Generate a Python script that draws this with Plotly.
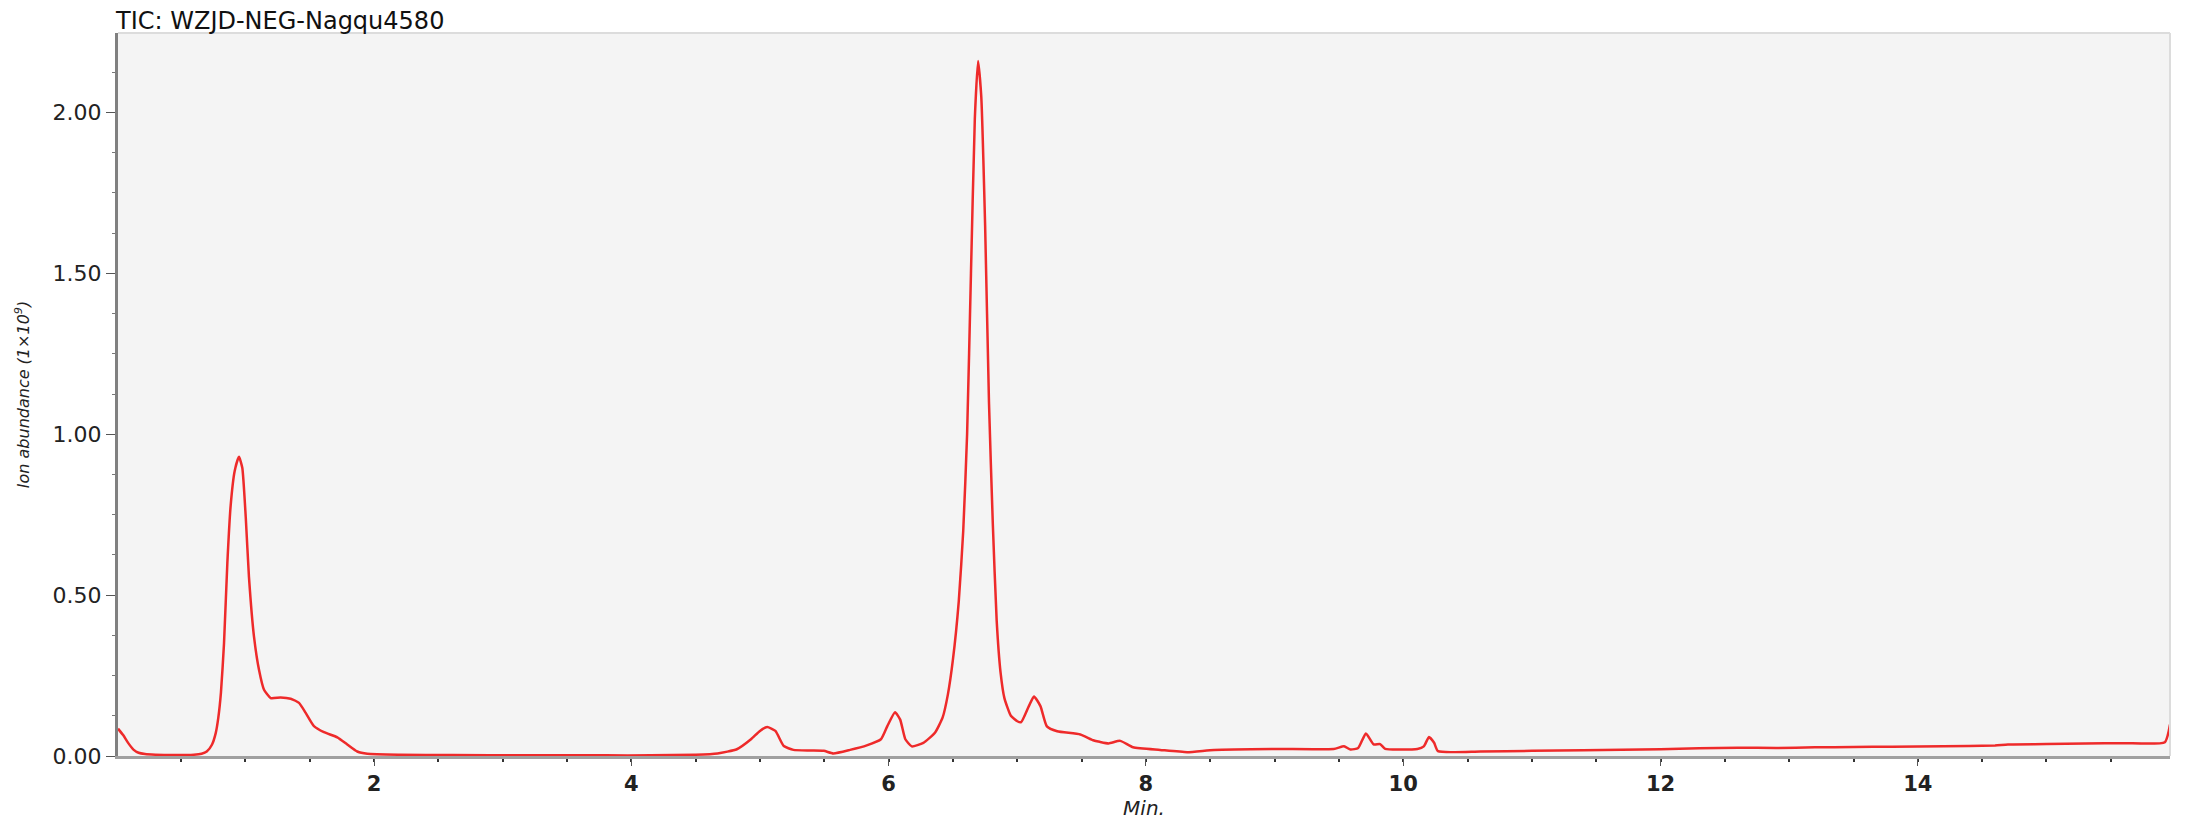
import plotly.graph_objects as go

# retention time (min) and TIC intensity (x1e9)
rt = [
    0.01, 0.05, 0.09, 0.13, 0.17, 0.22, 0.30, 0.45, 0.60, 0.66,
    0.70, 0.74, 0.77, 0.79, 0.81, 0.834, 0.86, 0.886, 0.917, 0.95,
    0.976, 1.003, 1.028, 1.067, 1.106, 1.145, 1.197, 1.274, 1.352, 1.417,
    1.469, 1.533, 1.611, 1.715, 1.792, 1.87, 1.948, 2.2, 2.6, 3.2,
    3.8, 4.15, 4.5, 4.67, 4.82, 4.93, 5.00, 5.056, 5.12, 5.185,
    5.26, 5.39, 5.496, 5.57, 5.70, 5.83, 5.94, 5.99, 6.05, 6.09,
    6.13, 6.18, 6.27, 6.36, 6.42, 6.46, 6.50, 6.545, 6.58, 6.61,
    6.64, 6.67, 6.695, 6.72, 6.75, 6.78, 6.81, 6.84, 6.87, 6.90,
    6.95, 7.00, 7.03, 7.09, 7.13, 7.18, 7.23, 7.31, 7.49, 7.59,
    7.64, 7.71, 7.80, 7.90, 8.11, 8.32, 8.53, 9.00, 9.46, 9.54,
    9.59, 9.65, 9.71, 9.77, 9.82, 9.86, 10.11, 10.16, 10.20, 10.24,
    10.27, 10.60, 11.00, 11.40, 12.00, 12.30, 12.60, 12.90, 13.20, 13.50,
    13.80, 14.20, 14.60, 14.70, 15.00, 15.30, 15.60, 15.92, 15.96,
]
tic = [
    0.085, 0.065, 0.040, 0.020, 0.010, 0.006, 0.004, 0.003, 0.004, 0.007,
    0.014, 0.035, 0.072, 0.120, 0.196, 0.350, 0.600, 0.780, 0.886, 0.930,
    0.896, 0.742, 0.556, 0.371, 0.268, 0.206, 0.180, 0.182, 0.178, 0.165,
    0.134, 0.093, 0.074, 0.058, 0.036, 0.014, 0.007, 0.004, 0.003, 0.002,
    0.002, 0.002, 0.004, 0.008, 0.021, 0.052, 0.078, 0.090, 0.078, 0.031,
    0.019, 0.017, 0.016, 0.008, 0.019, 0.033, 0.052, 0.093, 0.136, 0.113,
    0.052, 0.030, 0.041, 0.072, 0.120, 0.190, 0.300, 0.480, 0.700, 1.000,
    1.500, 1.980, 2.160, 2.050, 1.650, 1.100, 0.720, 0.420, 0.260, 0.180,
    0.125, 0.108, 0.105, 0.155, 0.185, 0.155, 0.092, 0.077, 0.067, 0.049,
    0.044, 0.039, 0.047, 0.027, 0.019, 0.012, 0.019, 0.022, 0.022, 0.030,
    0.020, 0.025, 0.070, 0.036, 0.037, 0.022, 0.022, 0.030, 0.059, 0.041,
    0.015, 0.014, 0.016, 0.018, 0.021, 0.024, 0.026, 0.025, 0.027, 0.028,
    0.029, 0.030, 0.033, 0.036, 0.037, 0.039, 0.040, 0.043, 0.098,
]

x_ticks = [2, 4, 6, 8, 10, 12, 14]
y_ticks = [0.0, 0.5, 1.0, 1.5, 2.0]
y_labels = ["0.00", "0.50", "1.00", "1.50", "2.00"]

# page body has an 8px margin, so the figure is sized 8px smaller
W, H = 2180, 816

fig = go.Figure()

fig.add_trace(go.Scatter(
    x=rt, y=tic,
    mode="lines",
    line=dict(color="#ee2a2a", width=2.5, shape="spline", smoothing=0.5),
    hoverinfo="x+y",
))

# light frame on top and right
fig.add_shape(type="line", xref="paper", yref="paper", x0=0, x1=1, y0=1, y1=1,
              line=dict(color="#dcdcdc", width=2))
fig.add_shape(type="line", xref="paper", yref="paper", x0=1, x1=1, y0=0, y1=1,
              line=dict(color="#dcdcdc", width=2))

fig.update_layout(
    width=W,
    height=H,
    margin=dict(l=110, r=18, t=25, b=53),
    paper_bgcolor="white",
    plot_bgcolor="#f4f4f4",
    showlegend=False,
    font=dict(family="DejaVu Sans", color="#222222"),
    title=dict(
        text="TIC: WZJD-NEG-Nagqu4580",
        x=108 / W, xanchor="left", xref="container",
        y=1 - 13 / H, yanchor="middle", yref="container",
        font=dict(size=24, color="#111111"),
    ),
    xaxis=dict(
        range=[0.01, 15.96],
        tickvals=x_ticks,
        ticks="outside", ticklen=7, tickwidth=1, tickcolor="#555555",
        minor=dict(dtick=0.5, tick0=0, ticks="outside", ticklen=3,
                   tickwidth=2, tickcolor="#333333", showgrid=False),
        tickfont=dict(size=21, weight="bold"),
        showline=True, linecolor="#a0a0a0", linewidth=3,
        showgrid=False, zeroline=False,
        title=dict(text="<i>Min.</i>", font=dict(size=20), standoff=2),
    ),
    yaxis=dict(
        range=[0, 2.247],
        tickvals=y_ticks, ticktext=y_labels,
        ticks="outside", ticklen=9, tickwidth=1, tickcolor="#555555",
        minor=dict(dtick=0.125, tick0=0, ticks="outside", ticklen=3,
                   tickwidth=1, tickcolor="#777777", showgrid=False),
        tickfont=dict(size=22),
        showline=True, linecolor="#808080", linewidth=3,
        showgrid=False, zeroline=False,
        title=dict(text="<i>Ion abundance (1×10<sup>9</sup>)</i>",
                   font=dict(size=16), standoff=20),
    ),
)

fig.write_html("out.html")
